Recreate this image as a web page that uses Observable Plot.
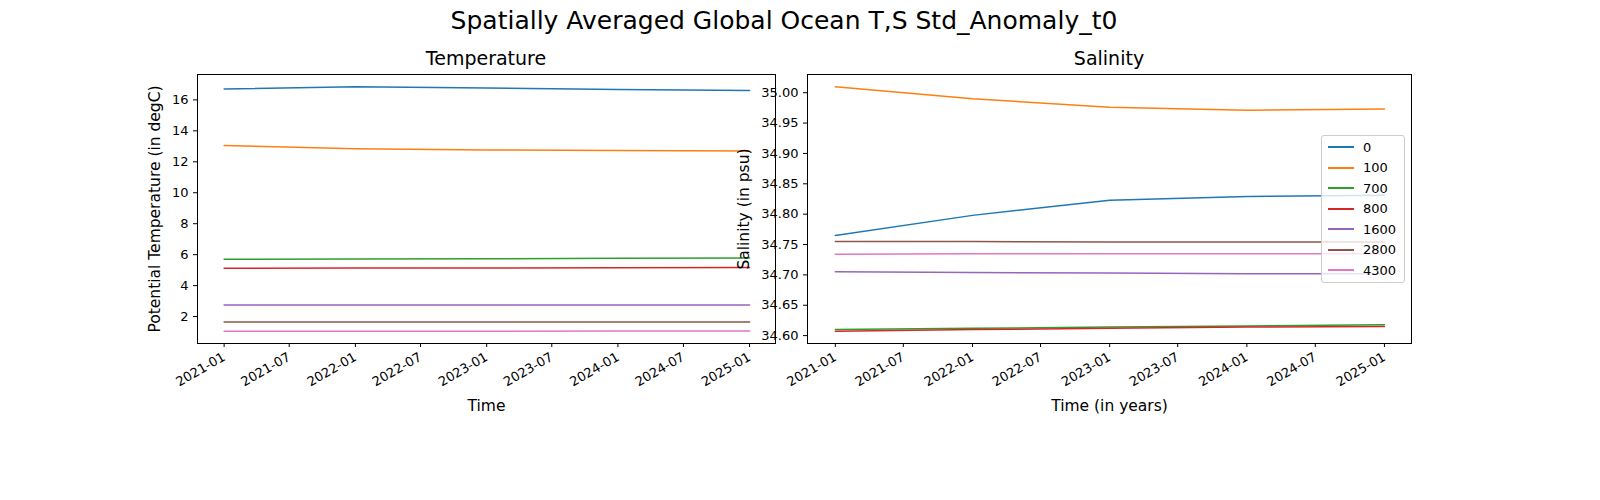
<!DOCTYPE html>
<html><head><meta charset="utf-8">
<script src="https://cdn.jsdelivr.net/npm/d3@7"></script>
<script src="https://cdn.jsdelivr.net/npm/@observablehq/plot@0.6"></script>
<style>
body{margin:0;background:#fff;font-family:"DejaVu Sans",sans-serif}
#wrap{position:relative;width:1600px;height:500px}
.abs{position:absolute}
svg{overflow:visible;max-width:none!important}
</style></head><body>
<div id="wrap">
<div class="abs" style="left:0;width:1568px;top:6px;text-align:center;font-size:25px">Spatially Averaged Global Ocean T,S Std_Anomaly_t0</div>
<div class="abs" style="left:197px;width:578px;top:47px;text-align:center;font-size:19px">Temperature</div>
<div class="abs" style="left:807px;width:604px;top:47px;text-align:center;font-size:19px">Salinity</div>
<div id="p1" class="abs" style="left:0;top:0;width:800px;height:500px"></div>
<div id="p2" class="abs" style="left:800px;top:0;width:800px;height:500px"></div>
<div id="leg" class="abs" style="left:1321px;top:135px;width:82px;height:146px;border:1px solid #ccc;border-radius:3px;background:rgba(255,255,255,0.8);font-size:13px"></div>
</div>
<script>
const years = ["2021-01-01","2022-01-01","2023-01-01","2024-01-01","2025-01-01"];
const depths = ["0","100","700","800","1600","2800","4300"];
const colors = ["#1f77b4","#ff7f0e","#2ca02c","#d62728","#9467bd","#8c564b","#e377c2"];
const temp = {
 "0":[16.7,16.85,16.77,16.67,16.6],
 "100":[13.05,12.85,12.76,12.73,12.7],
 "700":[5.7,5.72,5.74,5.76,5.78],
 "800":[5.12,5.13,5.14,5.15,5.17],
 "1600":[2.75,2.75,2.75,2.75,2.75],
 "2800":[1.65,1.65,1.65,1.65,1.65],
 "4300":[1.05,1.05,1.05,1.06,1.06]
};
const sal = {
 "0":[34.765,34.798,34.823,34.829,34.831],
 "100":[35.01,34.99,34.976,34.971,34.973],
 "700":[34.61,34.612,34.614,34.616,34.618],
 "800":[34.607,34.61,34.612,34.614,34.615],
 "1600":[34.705,34.704,34.703,34.702,34.702],
 "2800":[34.755,34.755,34.754,34.754,34.754],
 "4300":[34.734,34.735,34.735,34.735,34.735]
};
const toRows = o => depths.flatMap(d => years.map((y,i)=>({t:new Date(y),v:o[d][i],d})));
const xdom=[new Date("2020-10-19"),new Date("2025-03-14")];
const xticks=d3.utcMonth.every(6).range(new Date("2021-01-01"),new Date("2025-01-02"));
function mk(rows, opts){
 return Plot.plot({
  width:800,height:500,marginTop:74,marginBottom:157,marginLeft:opts.ml,marginRight:opts.mr,
  style:{fontFamily:"DejaVu Sans, sans-serif",fontSize:"13px",overflow:"visible"},
  x:{type:"utc",domain:xdom,label:null},
  y:{domain:opts.ydom,label:null},
  color:{domain:depths,range:colors},
  marks:[
   Plot.frame({stroke:"#000"}),
   Plot.line(rows,{x:"t",y:"v",z:"d",stroke:"d",strokeWidth:1.5}),
   Plot.axisX({ticks:xticks,tickFormat:d3.utcFormat("%Y-%m"),tickRotate:-30,label:null,fontSize:13,tickSize:4}),
   Plot.axisY({ticks:opts.yticks,tickFormat:opts.fmt,label:null,fontSize:13,tickSize:4}),
   Plot.text([opts.xl],{frameAnchor:"bottom",dy:67,text:d=>d,fontSize:15.5}),
   Plot.text([opts.yl],{frameAnchor:"left",dx:opts.ydx,rotate:-90,textAnchor:"middle",text:d=>d,fontSize:15.5})
  ]
 });
}
document.getElementById("p1").append(mk(toRows(temp),{ml:197,mr:25,ydom:[0.26,17.64],yticks:[2,4,6,8,10,12,14,16],fmt:d3.format("d"),xl:"Time",yl:"Potential Temperature (in degC)",ydx:-42}));
document.getElementById("p2").append(mk(toRows(sal),{ml:7,mr:189,ydom:[34.587,35.03],yticks:d3.range(34.60,35.001,0.05),fmt:d3.format(".2f"),xl:"Time (in years)",yl:"Salinity (in psu)",ydx:-63}));
const leg=document.getElementById("leg");
depths.forEach((d,i)=>{leg.insertAdjacentHTML("beforeend",`<div style="position:absolute;left:6px;top:${4+i*20.5}px;display:flex;align-items:center;height:14px"><span style="display:inline-block;width:26px;height:2px;background:${colors[i]};margin-right:9px"></span>${d}</div>`);});
</script>
</body></html>
